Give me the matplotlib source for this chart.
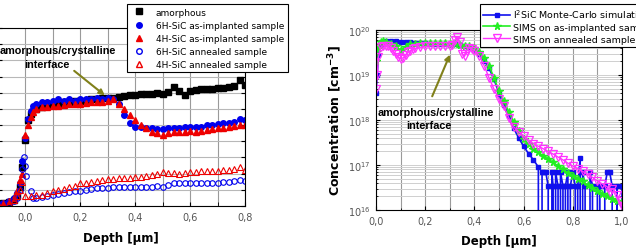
import matplotlib
matplotlib.use("Agg")
import matplotlib.pyplot as plt
from matplotlib.ticker import FuncFormatter, MultipleLocator, LogLocator, NullFormatter
from matplotlib.lines import Line2D

plt.rcParams['font.family'] = ['DejaVu Sans']

# ---------------- Left panel data (arbitrary units) ----------------
x_amorph = [-0.10, -0.08, -0.06, -0.04, -0.03, -0.02, -0.01, 0.00, 0.01, 0.02, 0.04, 0.06, 0.08,
            0.10, 0.12, 0.14, 0.16, 0.18, 0.20, 0.22, 0.24, 0.26, 0.28, 0.30, 0.32, 0.34, 0.36,
            0.38, 0.40, 0.42, 0.44, 0.46, 0.48, 0.50, 0.52, 0.54, 0.56, 0.58, 0.60, 0.62, 0.64,
            0.66, 0.68, 0.70, 0.72, 0.74, 0.76, 0.78, 0.80]
y_amorph = [0.15, 0.2, 0.25, 0.4, 0.6, 1.2, 2.4, 4.1, 5.3, 5.7, 6.0, 6.1, 6.2,
            6.3, 6.3, 6.4, 6.4, 6.5, 6.5, 6.5, 6.6, 6.6, 6.7, 6.7, 6.7, 6.75, 6.8,
            6.85, 6.85, 6.9, 6.9, 6.95, 7.0, 6.9, 7.05, 7.35, 7.1, 6.85, 7.1, 7.15, 7.2,
            7.2, 7.25, 7.3, 7.3, 7.35, 7.4, 7.8, 7.5]

x_6h_imp = [-0.10, -0.08, -0.06, -0.04, -0.03, -0.02, -0.01, 0.00, 0.01, 0.02, 0.03, 0.04, 0.06,
            0.08, 0.10, 0.12, 0.14, 0.16, 0.18, 0.20, 0.22, 0.24, 0.26, 0.28, 0.30, 0.32, 0.34,
            0.36, 0.38, 0.40, 0.42, 0.44, 0.46, 0.48, 0.50, 0.52, 0.54, 0.56, 0.58, 0.60, 0.62,
            0.64, 0.66, 0.68, 0.70, 0.72, 0.74, 0.76, 0.78, 0.80]
y_6h_imp = [0.15, 0.2, 0.3, 0.5, 0.8, 1.4, 2.8, 4.2, 5.4, 5.9, 6.2, 6.3, 6.4,
            6.4, 6.5, 6.6, 6.5, 6.6, 6.5, 6.6, 6.6, 6.6, 6.7, 6.6, 6.7, 6.6, 6.3,
            5.6, 5.1, 4.9, 4.9, 4.85, 4.8, 4.75, 4.75, 4.8, 4.8, 4.85, 4.9, 4.9, 4.9,
            4.9, 5.0, 5.0, 5.05, 5.1, 5.1, 5.2, 5.35, 5.3]

x_4h_imp = [-0.10, -0.08, -0.06, -0.04, -0.03, -0.02, -0.01, 0.00, 0.01, 0.02, 0.03, 0.04, 0.06,
            0.08, 0.10, 0.12, 0.14, 0.16, 0.18, 0.20, 0.22, 0.24, 0.26, 0.28, 0.30, 0.32, 0.34,
            0.36, 0.38, 0.40, 0.42, 0.44, 0.46, 0.48, 0.50, 0.52, 0.54, 0.56, 0.58, 0.60, 0.62,
            0.64, 0.66, 0.68, 0.70, 0.72, 0.74, 0.76, 0.78, 0.80]
y_4h_imp = [0.15, 0.2, 0.3, 0.5, 0.9, 1.6, 2.0, 4.4, 5.0, 5.5, 5.8, 6.0, 6.1,
            6.1, 6.2, 6.2, 6.25, 6.3, 6.3, 6.3, 6.35, 6.4, 6.4, 6.45, 6.5, 6.6, 6.3,
            6.0, 5.6, 5.3, 5.0, 4.8, 4.6, 4.5, 4.4, 4.5, 4.6, 4.6, 4.6, 4.65, 4.6,
            4.65, 4.7, 4.75, 4.85, 4.8, 4.9, 4.95, 5.0, 5.0]

x_6h_ann = [-0.10, -0.08, -0.06, -0.04, -0.03, -0.02, -0.01, -0.005, 0.00, 0.005, 0.02, 0.03,
            0.04, 0.06, 0.08, 0.10, 0.12, 0.14, 0.16, 0.18, 0.20, 0.22, 0.24, 0.26, 0.28, 0.30,
            0.32, 0.34, 0.36, 0.38, 0.40, 0.42, 0.44, 0.46, 0.48, 0.50, 0.52, 0.54, 0.56, 0.58,
            0.60, 0.62, 0.64, 0.66, 0.68, 0.70, 0.72, 0.74, 0.76, 0.78, 0.80]
y_6h_ann = [0.1, 0.15, 0.2, 0.3, 0.5, 1.0, 2.3, 3.0, 2.5, 1.85, 0.9, 0.5,
            0.5, 0.55, 0.6, 0.7, 0.75, 0.8, 0.85, 0.9, 0.95, 1.0, 1.05, 1.1, 1.1, 1.1,
            1.15, 1.15, 1.15, 1.15, 1.15, 1.2, 1.2, 1.2, 1.25, 1.2, 1.3, 1.4, 1.4, 1.4,
            1.4, 1.42, 1.42, 1.45, 1.45, 1.45, 1.5, 1.5, 1.55, 1.6, 1.55]

x_4h_ann = [-0.10, -0.08, -0.06, -0.04, -0.03, -0.02, -0.01, 0.00, 0.02, 0.04, 0.06, 0.08,
            0.10, 0.12, 0.14, 0.16, 0.18, 0.20, 0.22, 0.24, 0.26, 0.28, 0.30, 0.32, 0.34, 0.36,
            0.38, 0.40, 0.42, 0.44, 0.46, 0.48, 0.50, 0.52, 0.54, 0.56, 0.58, 0.60, 0.62, 0.64,
            0.66, 0.68, 0.70, 0.72, 0.74, 0.76, 0.78, 0.80]
y_4h_ann = [0.1, 0.15, 0.2, 0.35, 0.6, 1.0, 1.5, 0.6, 0.6, 0.65, 0.7, 0.8,
            0.95, 1.0, 1.05, 1.15, 1.25, 1.4, 1.45, 1.5, 1.55, 1.6, 1.65, 1.65, 1.7, 1.7,
            1.75, 1.8, 1.8, 1.85, 1.9, 1.95, 2.1, 2.05, 2.05, 2.0, 2.05, 2.1, 2.1, 2.15,
            2.15, 2.15, 2.15, 2.2, 2.25, 2.3, 2.4, 2.25]

left_labels = ['amorphous', '6H-SiC as-implanted sample', '4H-SiC as-implanted sample',
               '6H-SiC annealed sample', '4H-SiC annealed sample']

# ---------------- Right panel data (cm^-3) ----------------
x_sim = [0.0, 0.005, 0.01, 0.02, 0.03, 0.04, 0.06, 0.08, 0.10, 0.12, 0.14, 0.16, 0.18, 0.20,
         0.22, 0.24, 0.26, 0.28, 0.30, 0.32, 0.34, 0.36, 0.38, 0.40, 0.42, 0.44, 0.46, 0.48,
         0.50, 0.52, 0.54, 0.56, 0.58, 0.60, 0.62, 0.64, 0.66, 0.67, 0.675, 0.68, 0.69, 0.70,
         0.71, 0.715, 0.72, 0.725, 0.73, 0.74, 0.745, 0.75, 0.76, 0.765, 0.77, 0.78, 0.785,
         0.79, 0.80, 0.81, 0.815, 0.82, 0.83, 0.835, 0.84, 0.85, 0.86, 0.87, 0.88, 0.89, 0.90,
         0.91, 0.92, 0.93, 0.94, 0.95, 0.96, 0.97, 0.98, 0.99, 1.0]
c_sim = [4e18, 1e19, 2.8e19, 4.8e19, 5.4e19, 5.6e19, 5.7e19, 5.6e19, 5.4e19, 5.3e19, 5.3e19,
         5.2e19, 5.1e19, 5.1e19, 5.0e19, 5.0e19, 5.0e19, 4.9e19, 4.9e19, 4.8e19, 4.7e19, 4.5e19,
         4.2e19, 3.7e19, 3.0e19, 2.1e19, 1.4e19, 8.0e18, 3.8e18, 2.2e18, 1.2e18, 6.5e17, 4.0e17,
         2.6e17, 1.8e17, 1.3e17, 9e16, 0, 6.9e16, 6.9e16, 6.9e16, 3.4e16,
         0, 6.9e16, 3.4e16, 0, 6.9e16, 3.4e16, 0, 6.9e16, 3.4e16, 0, 3.4e16, 6.9e16, 0,
         3.4e16, 6.9e16, 3.4e16, 0, 3.4e16, 1.4e17, 0, 6.9e16, 3.4e16, 0, 6.9e16, 3.4e16, 0,
         3.4e16, 3.4e16, 0, 3.4e16, 6.9e16, 6.9e16, 3.4e16, 0, 3.4e16, 0, 3.4e16]

x_asimp = [0.0, 0.01, 0.02, 0.03, 0.04, 0.06, 0.08, 0.10, 0.12, 0.14, 0.16, 0.18, 0.20, 0.22,
           0.24, 0.26, 0.28, 0.30, 0.32, 0.34, 0.36, 0.38, 0.40, 0.42, 0.44, 0.46, 0.48, 0.50,
           0.52, 0.54, 0.56, 0.58, 0.60, 0.62, 0.64, 0.66, 0.68, 0.70, 0.72, 0.74, 0.76, 0.78,
           0.80, 0.82, 0.84, 0.86, 0.88, 0.90, 0.92, 0.94, 0.96, 0.98, 1.0]
c_asimp = [2e19, 4e19, 5.3e19, 5.6e19, 5.5e19, 5.0e19, 4.3e19, 3.6e19, 4.2e19, 4.8e19, 5.0e19,
           5.1e19, 5.2e19, 5.2e19, 5.2e19, 5.2e19, 5.1e19, 5.0e19, 4.8e19, 4.6e19, 4.4e19,
           4.3e19, 3.9e19, 3.3e19, 2.4e19, 1.6e19, 8.5e18, 4.4e18, 2.6e18, 1.5e18, 9e17,
           5.8e17, 3.8e17, 2.9e17, 2.3e17, 1.9e17, 1.6e17, 1.35e17, 1.15e17, 9.5e16, 8e16,
           6.8e16, 5.8e16, 5e16, 4.3e16, 3.6e16, 3.1e16, 2.6e16, 2.3e16, 2.0e16, 1.8e16,
           1.6e16, 1.5e16]

x_ann = [0.0, 0.005, 0.01, 0.02, 0.03, 0.04, 0.05, 0.06, 0.07, 0.08, 0.09, 0.10, 0.11, 0.12,
         0.13, 0.14, 0.15, 0.16, 0.18, 0.20, 0.22, 0.24, 0.26, 0.28, 0.30, 0.31, 0.32, 0.33,
         0.34, 0.35, 0.36, 0.37, 0.38, 0.39, 0.40, 0.42, 0.44, 0.46, 0.48, 0.50, 0.52, 0.54,
         0.56, 0.58, 0.60, 0.62, 0.64, 0.66, 0.68, 0.70, 0.72, 0.74, 0.76, 0.78, 0.80, 0.82,
         0.84, 0.86, 0.88, 0.90, 0.92, 0.94, 0.95, 0.96, 0.98, 0.99, 1.0]
c_ann = [5e18, 1e19, 2.5e19, 4.2e19, 4.5e19, 4.5e19, 4.3e19, 4.0e19, 3.4e19, 2.9e19, 2.5e19,
         2.3e19, 2.4e19, 2.8e19, 3.2e19, 3.5e19, 3.7e19, 3.9e19, 4.1e19, 4.3e19, 4.4e19,
         4.5e19, 4.5e19, 4.4e19, 4.3e19, 4.6e19, 6.0e19, 7.0e19, 5.5e19, 3.0e19, 2.6e19,
         3.5e19, 4.0e19, 3.8e19, 3.5e19, 2.7e19, 1.6e19, 8.5e18, 4.8e18, 2.9e18, 2.0e18,
         1.1e18, 7.0e17, 5.5e17, 4.4e17, 3.6e17, 3.0e17, 2.6e17, 2.3e17, 2.0e17, 1.75e17,
         1.5e17, 1.3e17, 1.1e17, 9.5e16, 8.3e16, 7.2e16, 6.2e16, 5.3e16, 4.4e16, 3.8e16,
         3.3e16, 2.5e16, 3.0e16, 2.2e16, 1.6e16, 1.2e16]

right_labels = [r'I$^2$SiC Monte-Carlo simulation', 'SIMS on as-implanted sample',
                'SIMS on annealed sample']

# ---------------- Figure ----------------
W, H = 636, 251
fig = plt.figure(figsize=(W / 100, H / 100), dpi=100)

def box(l, r, t, b):
    return [l / W, 1 - b / H, (r - l) / W, (b - t) / H]

def _fmt(v, p):
    v = round(v, 1)
    if abs(v) < 1e-9:
        v = 0.0
    return f"{v:.1f}".replace('.', ',')

comma = FuncFormatter(_fmt)
tick_col = '#555555'

# Left axes
axL = fig.add_axes(box(-2.5, 245, 29, 207))
axL.set_xlim(-0.1, 0.8)
axL.set_ylim(0, 11)
axL.xaxis.set_major_locator(MultipleLocator(0.2))
axL.xaxis.set_minor_locator(MultipleLocator(0.1))
axL.xaxis.set_major_formatter(comma)
axL.yaxis.set_major_locator(MultipleLocator(1))
axL.set_yticklabels([])
axL.grid(True, which='both', axis='x', color='#9a9a9a', lw=0.8)
axL.grid(True, which='major', axis='y', color='#b8b8b8', lw=0.8)
axL.tick_params(direction='in', which='both', top=False, right=True, labelsize=7,
                labelcolor=tick_col, length=3, pad=4)
axL.set_axisbelow(True)

ms = 4
axL.plot(x_amorph, y_amorph, 's', color='black', ms=ms, ls='none')
axL.plot(x_6h_imp, y_6h_imp, 'o', color='#0000ee', ms=ms, ls='none')
axL.plot(x_4h_imp, y_4h_imp, '^', color='#ee0000', ms=ms + 0.5, ls='none')
axL.plot(x_6h_ann, y_6h_ann, 'o', mfc='none', mec='#0000ee', mew=0.8, ms=ms, ls='none')
axL.plot(x_4h_ann, y_4h_ann, '^', mfc='none', mec='#ee0000', mew=0.8, ms=ms + 0.5, ls='none')
axL.set_xlabel('Depth [µm]', fontsize=8.5, fontweight='bold', labelpad=7)

axL.annotate('', xy=(0.298, 6.73), xytext=(0.171, 8.46),
             arrowprops=dict(arrowstyle='-|>', color='#80801a', lw=1.5, mutation_scale=8))
axL.text((58 + 2.5) / 247.5 * 0.9 - 0.1, (207 - 51) / 16.2, 'amorphous/crystalline',
         ha='center', va='center', fontsize=7.8, fontweight='bold', family='Liberation Sans')
axL.text((47 + 2.5) / 247.5 * 0.9 - 0.1, (207 - 65) / 16.2, 'interface',
         ha='center', va='center', fontsize=7.8, fontweight='bold', family='Liberation Sans')

handlesL = [
    Line2D([], [], marker='s', color='black', ls='none', ms=ms),
    Line2D([], [], marker='o', color='#0000ee', ls='none', ms=ms),
    Line2D([], [], marker='^', color='#ee0000', ls='none', ms=ms + 0.5),
    Line2D([], [], marker='o', mfc='none', mec='#0000ee', ls='none', ms=ms),
    Line2D([], [], marker='^', mfc='none', mec='#ee0000', ls='none', ms=ms + 0.5),
]
legL = fig.legend(handlesL, left_labels, loc='upper left', bbox_to_anchor=(127 / W, 1 - 5 / H),
                  fontsize=6.5, frameon=True, fancybox=False, framealpha=1, edgecolor='black',
                  handlelength=1.8, handletextpad=1.0, labelspacing=0.45, borderpad=0.4,
                  borderaxespad=0)
legL.get_frame().set_linewidth(0.8)

# Right axes
axR = fig.add_axes(box(376, 622, 31, 211))
axR.set_yscale('log')
axR.set_xlim(0, 1.0)
axR.set_ylim(1e16, 1e20)
axR.xaxis.set_major_locator(MultipleLocator(0.2))
axR.xaxis.set_minor_locator(MultipleLocator(0.1))
axR.xaxis.set_major_formatter(comma)
axR.yaxis.set_major_locator(LogLocator(base=10, numticks=10))
axR.yaxis.set_minor_locator(LogLocator(base=10, subs=range(2, 10), numticks=50))
axR.yaxis.set_minor_formatter(NullFormatter())
axR.grid(True, which='both', axis='x', color='#9a9a9a', lw=0.8)
axR.grid(True, which='both', axis='y', color='#cfcfcf', lw=0.7)
axR.tick_params(direction='in', which='both', right=True, labelsize=7, labelcolor=tick_col, pad=4)
axR.tick_params(which='major', length=3)
axR.tick_params(which='minor', length=1.5)
axR.set_axisbelow(True)

axR.plot(x_sim, c_sim, '-s', color='#1010ee', ms=3.5, lw=1.2)
axR.plot(x_asimp, c_asimp, '-*', color='#22ee22', ms=5.5, lw=1.2)
axR.plot(x_ann, c_ann, '-v', color='#ff33ff', mfc='none', mec='#ff33ff', ms=5.5, mew=0.9, lw=1.0)
axR.set_xlabel('Depth [µm]', fontsize=8.5, fontweight='bold', labelpad=6)
axR.set_ylabel(r'Concentration [cm$^{\mathbf{-3}}$]', fontsize=9, fontweight='bold', labelpad=3)

axR.annotate('', xy=(0.305, 10 ** 19.51), xytext=(0.224, 10 ** 18.47),
             arrowprops=dict(arrowstyle='-|>', color='#80801a', lw=1.5, mutation_scale=8))
axR.text((435.5 - 376) / 246, 10 ** (20 - (113 - 31) / 45), 'amorphous/crystalline',
         ha='center', va='center', fontsize=7.8, fontweight='bold', family='Liberation Sans')
axR.text((429 - 376) / 246, 10 ** (20 - (126 - 31) / 45), 'interface',
         ha='center', va='center', fontsize=7.8, fontweight='bold', family='Liberation Sans')

handlesR = [
    Line2D([], [], marker='s', color='#1010ee', ms=3.5, lw=1.2),
    Line2D([], [], marker='*', color='#22ee22', ms=5.5, lw=1.2),
    Line2D([], [], marker='v', color='#ff33ff', mfc='none', ms=5.5, lw=1.0),
]
legR = fig.legend(handlesR, right_labels, loc='upper left', bbox_to_anchor=(480 / W, 1 - 5 / H),
                  fontsize=6.8, frameon=True, fancybox=False, framealpha=1, edgecolor='black',
                  handlelength=2.8, handletextpad=0.3, labelspacing=0.3, borderpad=0.35,
                  borderaxespad=0)
legR.get_frame().set_linewidth(0.8)

fig.savefig('out.png', dpi=100)
